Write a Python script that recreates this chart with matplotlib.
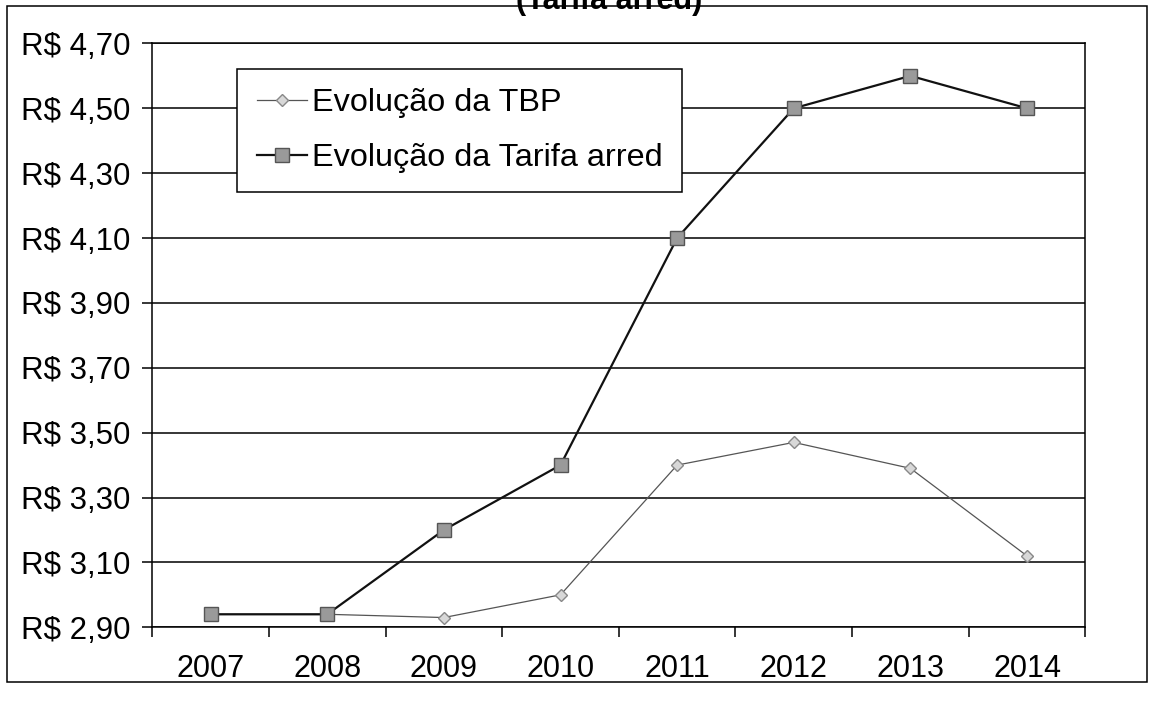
import matplotlib
matplotlib.use("Agg")
import matplotlib.pyplot as plt
from matplotlib.patches import Rectangle
import numpy as np

plt.rcParams['font.family'] = ['Liberation Sans', 'DejaVu Sans']

years = ["2007", "2008", "2009", "2010", "2011", "2012", "2013", "2014"]
tbp = [2.94, 2.94, 2.93, 3.00, 3.40, 3.47, 3.39, 3.12]
tarifa = [2.94, 2.94, 3.20, 3.40, 4.10, 4.50, 4.60, 4.50]
ytick_vals = [2.90, 3.10, 3.30, 3.50, 3.70, 3.90, 4.10, 4.30, 4.50, 4.70]
ytick_labels = ["R$ " + f"{v:.2f}".replace(".", ",") for v in ytick_vals]

fig = plt.figure(figsize=(11.54, 7.12), dpi=100)
ax = fig.add_axes([0.132, 0.119, 0.8085, 0.820])

x = np.arange(len(years))
ax.plot(x, tbp, color="#555555", lw=0.9, marker="D", ms=6.5,
        markerfacecolor="#d8d8d8", markeredgecolor="#888888", mew=1.0,
        label="Evolução da TBP", zorder=3)
ax.plot(x, tarifa, color="#111111", lw=1.6, marker="s", ms=10,
        markerfacecolor="#9a9a9a", markeredgecolor="#555555", mew=1.0,
        label="Evolução da Tarifa arred", zorder=4)

ax.set_xlim(-0.5, len(years) - 0.5)
ax.set_ylim(2.90, 4.70)
ax.set_yticks(ytick_vals)
ax.set_yticklabels(ytick_labels, fontsize=22.5)
ax.set_xticks(x)
ax.set_xticklabels(years, fontsize=22)
ax.set_xticks(np.arange(-0.5, len(years)), minor=True)
ax.tick_params(axis="x", which="major", length=0, pad=19)
ax.tick_params(axis="x", which="minor", length=7, width=1.1, direction="out", color="black")
ax.tick_params(axis="y", length=7, width=1.1, direction="out", pad=9)
ax.yaxis.grid(True, color="black", lw=1.1)
ax.set_axisbelow(True)
for s in ax.spines.values():
    s.set_color("black")
    s.set_linewidth(1.1)

leg = ax.legend(loc="upper left", bbox_to_anchor=(0.091, 0.957),
                prop={'size': 23.3},
                frameon=True, fancybox=False, edgecolor="black",
                handlelength=1.55, handletextpad=0.15, borderpad=0.6,
                labelspacing=0.77, borderaxespad=0)
leg.get_frame().set_linewidth(1.1)
leg.get_frame().set_alpha(1.0)

fig.patches.append(Rectangle((0.006, 0.042), 0.988, 0.950, transform=fig.transFigure,
                             fill=False, edgecolor="black", lw=1.1))
fig.text(0.528, 0.998, "(Tarifa arred)", ha="center", va="center",
         fontsize=22, fontweight="bold")

fig.savefig("out.png", dpi=100)
